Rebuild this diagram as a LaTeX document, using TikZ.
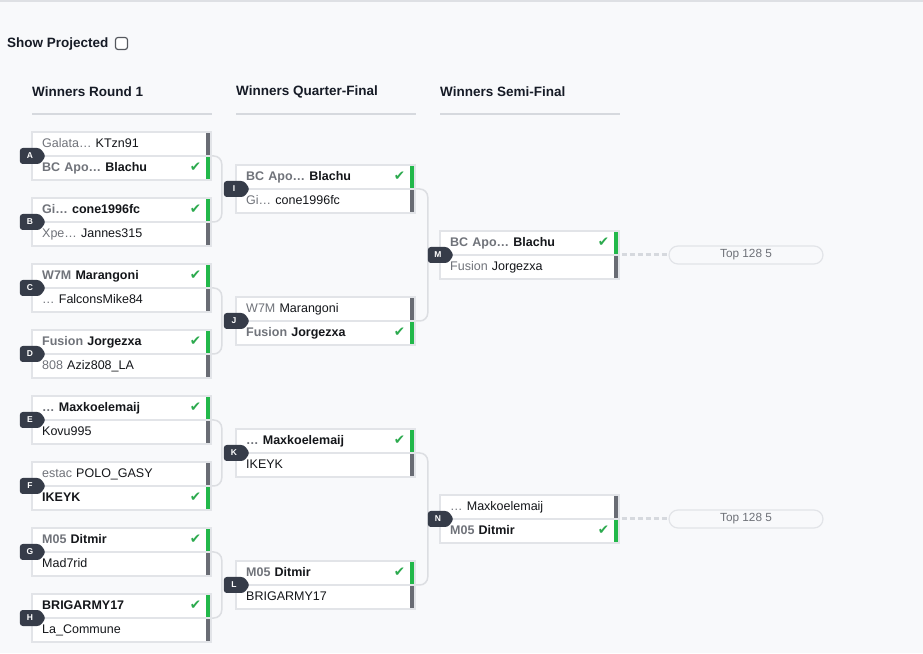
\documentclass[tikz,border=0pt]{standalone}
\usepackage{fontspec}
\setmainfont{Liberation Sans}
\newfontfamily\symbfont{DejaVu Sans}
\usepackage{tikz}
\usetikzlibrary{shapes.symbols}
\usepackage{xcolor}
\definecolor{pagebg}{RGB}{248,249,251}
\definecolor{topline}{RGB}{222,224,228}
\definecolor{heading}{RGB}{22,27,38}
\definecolor{headrule}{RGB}{214,217,222}
\definecolor{boxline}{RGB}{226,228,232}
\definecolor{ink}{RGB}{20,22,26}
\definecolor{clangray}{RGB}{112,115,122}
\definecolor{okgreen}{RGB}{44,170,78}
\definecolor{winbar}{RGB}{34,184,74}
\definecolor{losebar}{RGB}{105,108,116}
\definecolor{badgefill}{RGB}{54,60,73}
\definecolor{linkgray}{RGB}{220,222,226}
\definecolor{pilltext}{RGB}{110,113,120}

\pgfdeclarelayer{back}
\pgfsetlayers{back,main}

\newcommand{\won}[2]{\bfseries\textcolor{clangray}{#1}#2\hskip 0pt plus 1fill{\symbfont\fontsize{13.5}{13}\selectfont\textcolor{okgreen}{✔}}}
\newcommand{\lost}[2]{\textcolor{clangray}{#1}#2}

\newcommand{\game}[7]{%
  \node[matchbox] (g#1) at (#2+89.5,#3) {};
  \draw[rowline] (g#1.west) -- (g#1.east);
  \fill[#6] (#2+174,#3+1) rectangle (#2+178,#3+23);
  \fill[#7] (#2+174,#3-1) rectangle (#2+178,#3-23);
  \node[rowtext] (g#1top) at (#2+10,#3+12) {#4};
  \node[rowtext] (g#1bot) at (#2+10,#3-12) {#5};
  \node[badge] (b#1) at (#2-2,#3) {#1};
}

\begin{document}
\begin{tikzpicture}[x=1pt,y=1pt,
  matchbox/.style={rectangle, draw=boxline, line width=1.5pt, fill=white,
    minimum width=179pt, minimum height=48pt, inner sep=0pt},
  rowline/.style={draw=boxline, line width=1.5pt},
  rowtext/.style={anchor=west, inner sep=0pt, text width=159pt, align=left,
    text height=9.5pt, text depth=2.5pt, text=ink,
    font=\fontsize{12.5}{14}\selectfont},
  badge/.style={signal, signal to=east, signal pointer angle=110, fill=badgefill,
    rounded corners=3pt, minimum width=26pt, minimum height=16pt, inner sep=0pt,
    text=white, font=\bfseries\fontsize{8.5}{9}\selectfont},
  heading/.style={anchor=west, inner sep=0pt, text=heading,
    font=\bfseries\fontsize{13.5}{15}\selectfont},
  link/.style={draw=linkgray, line width=1.5pt, rounded corners=8pt},
  projline/.style={draw=headrule, line width=3pt, dash pattern=on 5pt off 3pt, shorten <=2pt},
  pill/.style={rectangle, draw=boxline, line width=1.2pt, fill=pagebg, rounded corners=9pt,
    minimum width=154pt, minimum height=18pt, inner sep=0pt, text=pilltext,
    font=\fontsize{11.8}{13}\selectfont}]
  \useasboundingbox (0,0) rectangle (923,653);
  \begin{pgfonlayer}{back}
    \fill[pagebg] (0,0) rectangle (923,653);
  \end{pgfonlayer}
  \draw[topline, line width=2pt] (0,652) -- (923,652);

  \node[heading] (show) at (7,608.5) {Show Projected};
  \draw[draw={rgb,255:red,85;green,88;blue,94}, fill=white, line width=1.2pt, rounded corners=2.5pt]
    (115.5,603.5) rectangle (127.5,615.5);

  \node[heading] (hR1) at (32,561) {Winners Round 1};
  \node[heading] (hQF) at (236,561) {Winners Quarter-Final};
  \node[heading] (hSF) at (440,561) {Winners Semi-Final};
  \draw[headrule, line width=1.2pt] (32,539) -- (212,539);
  \draw[headrule, line width=1.2pt] (236,539) -- (416,539);
  \draw[headrule, line width=1.2pt] (440,539) -- (620,539);

  \game{A}{32}{497}{\lost{Galata…\ }{KTzn91}}{\won{BC Apo…\ }{Blachu}}{losebar}{winbar}
  \game{B}{32}{431}{\won{Gi…\ }{cone1996fc}}{\lost{Xpe…\ }{Jannes315}}{winbar}{losebar}
  \game{C}{32}{365}{\won{W7M\ }{Marangoni}}{\lost{…\ }{FalconsMike84}}{winbar}{losebar}
  \game{D}{32}{299}{\won{Fusion\ }{Jorgezxa}}{\lost{808\ }{Aziz808\_LA}}{winbar}{losebar}
  \game{E}{32}{233}{\won{…\ }{Maxkoelemaij}}{\lost{}{Kovu995}}{winbar}{losebar}
  \game{F}{32}{167}{\lost{estac\ }{POLO\_GASY}}{\won{}{IKEYK}}{losebar}{winbar}
  \game{G}{32}{101}{\won{M05\ }{Ditmir}}{\lost{}{Mad7rid}}{winbar}{losebar}
  \game{H}{32}{35}{\won{}{BRIGARMY17}}{\lost{}{La\_Commune}}{winbar}{losebar}

  \game{I}{236}{464}{\won{BC Apo…\ }{Blachu}}{\lost{Gi…\ }{cone1996fc}}{winbar}{losebar}
  \game{J}{236}{332}{\lost{W7M\ }{Marangoni}}{\won{Fusion\ }{Jorgezxa}}{losebar}{winbar}
  \game{K}{236}{200}{\won{…\ }{Maxkoelemaij}}{\lost{}{IKEYK}}{winbar}{losebar}
  \game{L}{236}{68}{\won{M05\ }{Ditmir}}{\lost{}{BRIGARMY17}}{winbar}{losebar}

  \game{M}{440}{398}{\won{BC Apo…\ }{Blachu}}{\lost{Fusion\ }{Jorgezxa}}{winbar}{losebar}
  \game{N}{440}{134}{\lost{…\ }{Maxkoelemaij}}{\won{M05\ }{Ditmir}}{losebar}{winbar}

  \node[pill] (pM) at (746,398) {Top 128 5};
  \node[pill] (pN) at (746,134) {Top 128 5};

  \begin{pgfonlayer}{back}
    \draw[link] (gA.east) -- ++(10,0) |- (gB.east);
    \draw[link] (gC.east) -- ++(10,0) |- (gD.east);
    \draw[link] (gE.east) -- ++(10,0) |- (gF.east);
    \draw[link] (gG.east) -- ++(10,0) |- (gH.east);
    \draw[link] (gI.east) -- ++(12,0) |- (gJ.east);
    \draw[link] (gK.east) -- ++(12,0) |- (gL.east);
    \draw[projline] (gM.east) -- (pM.west);
    \draw[projline] (gN.east) -- (pN.west);
  \end{pgfonlayer}
\end{tikzpicture}
\end{document}
